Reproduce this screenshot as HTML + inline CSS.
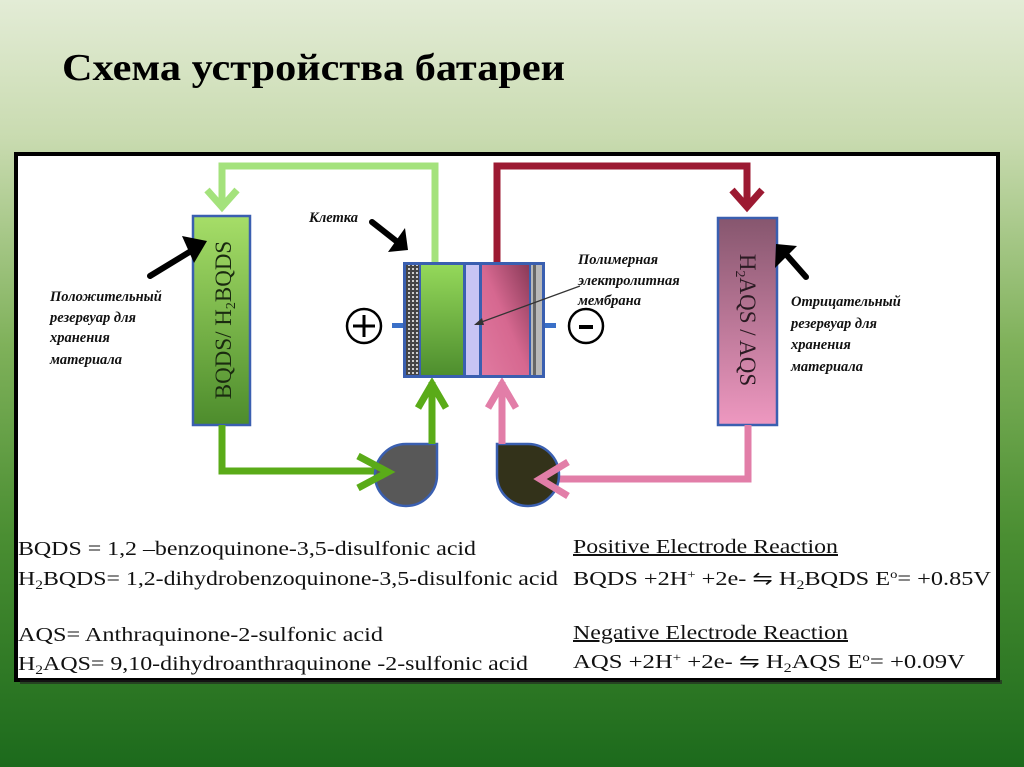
<!DOCTYPE html>
<html><head><meta charset="utf-8"><style>
html,body{margin:0;padding:0;width:1024px;height:767px;overflow:hidden}
svg{display:block}
</style></head><body>
<svg width="1024" height="767" viewBox="0 0 1024 767" xmlns="http://www.w3.org/2000/svg">
<defs>
<linearGradient id="bg" x1="0" y1="0" x2="0" y2="1">
<stop offset="0" stop-color="#e3ecd6"/>
<stop offset="0.18" stop-color="#c9dbb0"/>
<stop offset="0.45" stop-color="#7fb15a"/>
<stop offset="0.7" stop-color="#4a8e32"/>
<stop offset="1" stop-color="#1c6a1c"/>
</linearGradient>
<linearGradient id="lt" x1="0" y1="0" x2="0" y2="1">
<stop offset="0" stop-color="#a6de68"/><stop offset="1" stop-color="#4d8c2c"/>
</linearGradient>
<linearGradient id="rt" x1="0" y1="0" x2="0" y2="1">
<stop offset="0" stop-color="#86566e"/><stop offset="1" stop-color="#ee98c0"/>
</linearGradient>
<linearGradient id="gc" x1="0" y1="0" x2="0" y2="1">
<stop offset="0" stop-color="#94d85a"/><stop offset="1" stop-color="#4e8e2e"/>
</linearGradient>
<linearGradient id="pc" x1="1" y1="0" x2="0" y2="1">
<stop offset="0" stop-color="#8a3a58"/><stop offset="0.5" stop-color="#d66890"/><stop offset="1" stop-color="#e07aa0"/>
</linearGradient>
<pattern id="hatch" width="4" height="4" patternUnits="userSpaceOnUse">
<rect width="4" height="4" fill="#444"/><rect width="2" height="2" fill="#ccc"/>
</pattern>
</defs>
<rect width="1024" height="767" fill="url(#bg)"/>
<text x="62" y="80" font-family="Liberation Serif, serif" font-weight="bold" font-size="38" textLength="503" lengthAdjust="spacingAndGlyphs">Схема устройства батареи</text>
<rect x="16" y="154" width="982" height="526" fill="#fff" stroke="#000" stroke-width="4"/>
<rect x="20" y="680" width="982" height="4" fill="#222" opacity="0.6"/>

<polyline points="435,262 435,166 222,166 222,208" fill="none" stroke="#a4e27c" stroke-width="7"/>
<polyline points="207,190 222,207 237,190" fill="none" stroke="#a4e27c" stroke-width="7"/>
<polyline points="497,262 497,166 747,166 747,208" fill="none" stroke="#9c1a32" stroke-width="7"/>
<polyline points="732,190 747,207 762,190" fill="none" stroke="#9c1a32" stroke-width="7"/>

<rect x="193" y="216" width="57" height="209" fill="url(#lt)" stroke="#3a5fb0" stroke-width="2.5"/>
<text transform="translate(231,320) rotate(-90)" text-anchor="middle" font-family="Liberation Serif, serif" font-size="23" fill="#1a2a10">BQDS/ H<tspan font-size="14" dy="4">2</tspan><tspan dy="-4">BQDS</tspan></text>
<rect x="718" y="218" width="59" height="207" fill="url(#rt)" stroke="#3a5fb0" stroke-width="2.5"/>
<text transform="translate(740,320) rotate(90)" text-anchor="middle" font-family="Liberation Serif, serif" font-size="23" fill="#2a1a22">H<tspan font-size="14" dy="4">2</tspan><tspan dy="-4">AQS / AQS</tspan></text>

<polyline points="222,425 222,471 385,471" fill="none" stroke="#5aab18" stroke-width="7"/>
<polyline points="748,425 748,479 548,479" fill="none" stroke="#e27ea8" stroke-width="7"/>

<path d="M406,444 L437,444 L437,475 A31,31 0 1 1 406,444 Z" fill="#585858" stroke="#3a5fb0" stroke-width="2.5"/>
<path d="M497,444 L528,444 A31,31 0 1 1 497,475 Z" fill="#33321a" stroke="#3a5fb0" stroke-width="2.5"/>
<polyline points="358,456 388,472 358,488" fill="none" stroke="#5aab18" stroke-width="7"/>
<polyline points="568,462 540,479 568,496" fill="none" stroke="#e27ea8" stroke-width="7"/>
<line x1="432" y1="444" x2="432" y2="382" stroke="#5aab18" stroke-width="7"/>
<polyline points="418,408 432,384 446,408" fill="none" stroke="#5aab18" stroke-width="7"/>
<line x1="502" y1="444" x2="502" y2="382" stroke="#e27ea8" stroke-width="7"/>
<polyline points="488,408 502,384 516,408" fill="none" stroke="#e27ea8" stroke-width="7"/>

<rect x="403" y="262" width="142" height="116" fill="#3a5fb0"/>
<rect x="406" y="265" width="13" height="110" fill="url(#hatch)"/>
<rect x="421" y="265" width="42" height="110" fill="url(#gc)"/>
<rect x="466" y="265" width="13" height="110" fill="#c8c4f4"/>
<rect x="482" y="265" width="47" height="110" fill="url(#pc)"/>
<rect x="531" y="265" width="11" height="110" fill="#b8b8b8"/>
<rect x="533" y="265" width="3" height="110" fill="#666"/>
<rect x="392" y="323" width="11" height="5" fill="#3a70c8"/>
<rect x="545" y="323" width="11" height="5" fill="#3a70c8"/>
<circle cx="364" cy="326" r="17" fill="none" stroke="#000" stroke-width="2.5"/>
<line x1="353" y1="326" x2="375" y2="326" stroke="#000" stroke-width="3"/>
<line x1="364" y1="315" x2="364" y2="337" stroke="#000" stroke-width="3"/>
<circle cx="586" cy="326" r="17" fill="none" stroke="#000" stroke-width="2.5"/>
<line x1="579" y1="327" x2="593" y2="327" stroke="#000" stroke-width="4"/>
<line x1="476" y1="324" x2="580" y2="286" stroke="#333" stroke-width="1.2"/>
<polygon points="474,325 482,318 484,325" fill="#333"/>

<g stroke="#000" stroke-width="6" fill="none" stroke-linecap="round">
<line x1="150" y1="276" x2="196" y2="248"/>
<line x1="372" y1="222" x2="400" y2="244"/>
<line x1="806" y1="277" x2="784" y2="252"/>
</g>
<g fill="#000">
<polygon points="182,236 207,241 194,263"/>
<polygon points="388,252 408,250 405,228"/>
<polygon points="775,268 776,244 797,246"/>
</g>

<g font-family="Liberation Serif, serif" font-style="italic" font-weight="bold" font-size="14.5" fill="#111">
<text x="309" y="222">Клетка</text>
<text x="50" y="301">Положительный</text>
<text x="50" y="322">резервуар для</text>
<text x="50" y="342">хранения</text>
<text x="50" y="364">материала</text>
<text x="578" y="264">Полимерная</text>
<text x="578" y="285">электролитная</text>
<text x="578" y="305">мембрана</text>
<text x="791" y="306">Отрицательный</text>
<text x="791" y="328">резервуар для</text>
<text x="791" y="349">хранения</text>
<text x="791" y="371">материала</text>
</g>

<g font-family="Liberation Serif, serif" font-size="20" fill="#111">
<text x="18" y="555" textLength="458" lengthAdjust="spacingAndGlyphs">BQDS = 1,2 –benzoquinone-3,5-disulfonic acid</text>
<text x="18" y="585" textLength="540" lengthAdjust="spacingAndGlyphs">H<tspan font-size="13" dy="4">2</tspan><tspan dy="-4">BQDS= 1,2-dihydrobenzoquinone-3,5-disulfonic acid</tspan></text>
<text x="18" y="641" textLength="365" lengthAdjust="spacingAndGlyphs">AQS=  Anthraquinone-2-sulfonic acid</text>
<text x="18" y="670" textLength="510" lengthAdjust="spacingAndGlyphs">H<tspan font-size="13" dy="4">2</tspan><tspan dy="-4">AQS= 9,10-dihydroanthraquinone -2-sulfonic acid</tspan></text>
<text x="573" y="553" text-decoration="underline" textLength="265" lengthAdjust="spacingAndGlyphs">Positive Electrode Reaction</text>
<text x="573" y="585" textLength="418" lengthAdjust="spacingAndGlyphs">BQDS +2H<tspan font-size="12" dy="-7">+</tspan><tspan dy="7"> +2e- ⇋ H</tspan><tspan font-size="13" dy="4">2</tspan><tspan dy="-4">BQDS  E</tspan><tspan font-size="12" dy="-7">o</tspan><tspan dy="7">= +0.85V</tspan></text>
<text x="573" y="639" text-decoration="underline" textLength="275" lengthAdjust="spacingAndGlyphs">Negative Electrode Reaction</text>
<text x="573" y="668" textLength="392" lengthAdjust="spacingAndGlyphs">AQS +2H<tspan font-size="12" dy="-7">+</tspan><tspan dy="7"> +2e- ⇋ H</tspan><tspan font-size="13" dy="4">2</tspan><tspan dy="-4">AQS   E</tspan><tspan font-size="12" dy="-7">o</tspan><tspan dy="7">= +0.09V</tspan></text>
</g>
</svg>
</body></html>
